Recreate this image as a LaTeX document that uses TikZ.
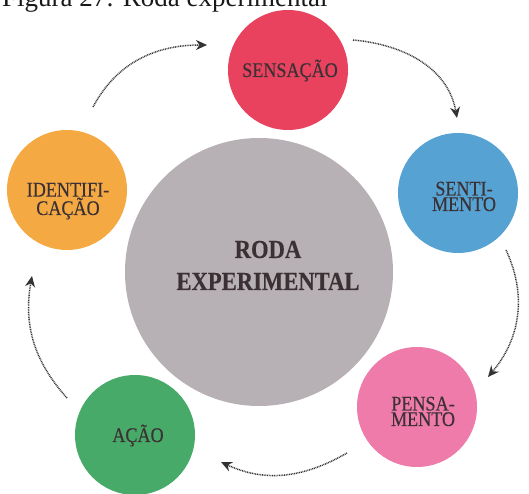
\documentclass[tikz,border=0pt]{standalone}
\usepackage{fontspec}
\setmainfont{Liberation Serif}
\newfontfamily\condserif{Liberation Serif}[FakeStretch=0.87, FakeBold=0.3]
\usetikzlibrary{arrows.meta}

\definecolor{sensred}{HTML}{E8425F}
\definecolor{sentblue}{HTML}{56A2D3}
\definecolor{identorange}{HTML}{F5A943}
\definecolor{wheelgrey}{HTML}{B7B0B4}
\definecolor{thinkpink}{HTML}{EE7BA9}
\definecolor{actgreen}{HTML}{47AA69}
\definecolor{labelink}{HTML}{3B3134}
\definecolor{flowink}{HTML}{333333}

\tikzset{
  stage/.style={circle, minimum size=120pt, inner sep=0pt},
  % multi-line labels sit on the baseline of their last line
  stagetext/.style={font=\condserif\fontsize{20.8}{15.5}\selectfont, text=labelink,
    align=center, inner sep=0pt, anchor=base},
  flow/.style={draw=flowink, line width=1.5pt, dash pattern=on 0.9pt off 0.8pt,
    -{Stealth[length=11pt, width=10pt, inset=3.5pt]}},
}

\begin{document}
\begin{tikzpicture}[x=1pt, y=1pt]
  \useasboundingbox (0,0) rectangle (529,494);

  % caption
  \node[anchor=base west, inner sep=0pt, font=\fontsize{27}{30}\selectfont, text=black!90]
    (caption) at (2,487) {Figura 27: Roda experimental};

  % circles of the wheel
  \node[stage, fill=wheelgrey, minimum size=268pt] (roda) at (259,222) {};
  \node[stage, fill=sensred] (sens) at (288,424) {};
  \node[stage, fill=sentblue] (sent) at (458,301) {};
  \node[stage, fill=thinkpink] (pens) at (417,87) {};
  \node[stage, fill=actgreen] (acao) at (135,59) {};
  \node[stage, fill=identorange] (iden) at (67,304) {};

  % labels
  \node[stagetext] (sensT) at (290,417) {SENSAÇÃO};
  \node[stagetext] (sentT) at (464,283) {SENTI-\\MENTO};
  \node[stagetext] (pensT) at (423,68) {PENSA-\\MENTO};
  \node[stagetext] (acaoT) at (138,52) {AÇÃO};
  \node[stagetext] (idenT) at (68,279) {IDENTIFI-\\CAÇÃO};
  \node[font=\condserif\bfseries\fontsize{26}{32}\selectfont, text=labelink,
    align=center, inner sep=0pt, anchor=base] (rodaT) at (268,204) {RODA\\EXPERIMENTAL};

  % dotted arrows around the wheel
  \coordinate (f1a) at (93,387);   \coordinate (f1b) at (207,449);
  \coordinate (f2a) at (353,454);  \coordinate (f2b) at (457,376);
  \coordinate (f3a) at (506,244);  \coordinate (f3b) at (488,117);
  \coordinate (f4a) at (347,41);   \coordinate (f4b) at (221,32);
  \coordinate (f5a) at (67,96);    \coordinate (f5b) at (32,218);

  \draw[flow] (f1a) to[out=62, in=180] (f1b);
  \draw[flow] (f2a) to[out=-5, in=100] (f2b);
  \draw[flow] (f3a) to[out=-65, in=50] (f3b);
  \draw[flow] (f4a) to[out=210, in=-25] (f4b);
  \draw[flow] (f5a) to[out=132, in=-100] (f5b);
\end{tikzpicture}
\end{document}
